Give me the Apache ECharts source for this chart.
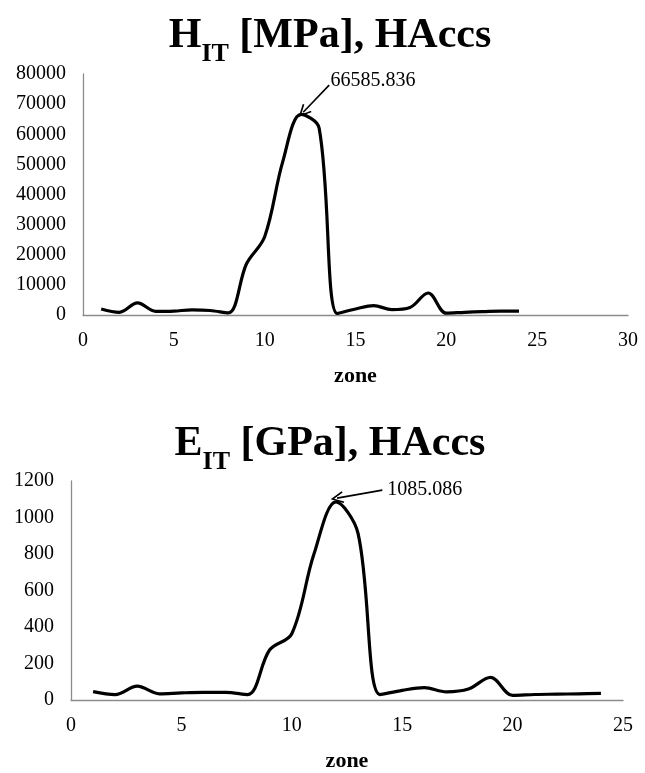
<!DOCTYPE html>
<html>
<head>
<meta charset="utf-8">
<script src="https://cdn.jsdelivr.net/npm/echarts@6/dist/echarts.min.js"></script>
<style>
html,body{margin:0;padding:0;background:#fff;}
#c{width:645px;height:773px;}
</style>
</head>
<body>
<div id="c"></div>
<script>
// ---- data ----
const zones = [1,2,3,4,5,6,7,8,9,10,11,12,13,14,15,16,17,18,19,20,21,22,23,24];
const hitValues = [2000, 900, 4000, 1200, 1300, 1700, 1500, 700, 17000, 26000, 51000, 66585.836, 62000, 500, 2000, 3100, 1800, 2500, 7300, 600, 900, 1100, 1300, 1300];
const eitValues = [46, 30, 76, 34, 39, 42, 42, 30, 275, 363, 798, 1085.086, 913, 30, 53, 68, 45, 60, 124, 25, 30, 32, 34, 36];
const hitTicks = [0, 80000, 10000];   // min, max, interval
const hitXTicks = [0, 30, 5];
const eitTicks = [0, 1200, 200];
const eitXTicks = [0, 25, 5];
const hitPeak = {zone: 12, value: 66585.836, label: '66585.836'};
const eitPeak = {zone: 12, value: 1085.086, label: '1085.086'};
// annotation anchor points (data space)
const hitLabelAt = [13.6, 77800];
const hitArrowFrom = [13.55, 76300];
const hitArrowTo = [12.12, 67300];
const eitLabelAt = [14.3, 1152];
const eitArrowFrom = [14.1, 1150];
const eitArrowTo = [12.05, 1106];

const serif = '"Liberation Serif", "Times New Roman", serif';
const pairs = (xs, ys) => xs.map((x, i) => [x, ys[i]]);
const openArrow = 'path://M0,0 L6,11 L4.6,11.8 L0,3.2 L-4.6,11.8 L-6,11 Z';

function titleOpt(main, sub, rest, top) {
  return {
    text: '{m|' + main + '}{s|' + sub + '}{m|' + rest + '}',
    left: 325, top: top, textAlign: 'center',
    textStyle: {
      rich: {
        m: {fontFamily: serif, fontWeight: 'bold', fontSize: 42, color: '#000', lineHeight: 46, verticalAlign: 'bottom'},
        s: {fontFamily: serif, fontWeight: 'bold', fontSize: 26, color: '#000', lineHeight: 46, verticalAlign: 'bottom', padding: [0, 0, -10, 0]}
      }
    }
  };
}

function xAxisOpt(t, gi) {
  return {
    type: 'value', gridIndex: gi, min: t[0], max: t[1], interval: t[2],
    name: 'zone', nameLocation: 'middle', nameGap: 50,
    nameTextStyle: {fontFamily: serif, fontWeight: 'bold', fontSize: 22, color: '#000'},
    axisLine: {show: true, lineStyle: {color: '#8c8c8c', width: 1.3}},
    axisTick: {show: false}, splitLine: {show: false},
    axisLabel: {fontFamily: serif, fontSize: 20, color: '#000', margin: 16, formatter: v => String(v)}
  };
}
function yAxisOpt(t, gi, margin) {
  return {
    type: 'value', gridIndex: gi, min: t[0], max: t[1], interval: t[2],
    axisLine: {show: true, lineStyle: {color: '#8c8c8c', width: 1.3}},
    axisTick: {show: false}, splitLine: {show: false},
    axisLabel: {fontFamily: serif, fontSize: 20, color: '#000', margin: margin, formatter: v => String(v)}
  };
}
function seriesOpt(vals, gi, labelAt, from, to, peak) {
  return {
    type: 'line', xAxisIndex: gi, yAxisIndex: gi,
    data: pairs(zones, vals), smooth: 0.35, showSymbol: false,
    lineStyle: {color: '#000', width: 3.2},
    silent: true,
    markLine: {
      silent: true, animation: false,
      symbol: ['none', openArrow], symbolSize: [12, 13],
      lineStyle: {color: '#000', width: 1.6, type: 'solid'},
      label: {show: false},
      data: [[{coord: from}, {coord: to}]]
    },
    markPoint: {
      silent: true, animation: false,
      symbol: 'circle', symbolSize: 1, itemStyle: {color: 'rgba(0,0,0,0)'},
      label: {show: true, position: 'right', distance: 0, formatter: peak.label,
        fontFamily: serif, fontSize: 20, color: '#000'},
      data: [{coord: labelAt}]
    }
  };
}

const chart = echarts.init(document.getElementById('c'), null, {renderer: 'canvas'});
chart.setOption({
  animation: false,
  backgroundColor: '#fff',
  title: [
    titleOpt('H', 'IT', ' [MPa], HAccs', 6),
    titleOpt('E', 'IT', ' [GPa], HAccs', 414)
  ],
  grid: [
    {left: 83, right: 17, top: 74, height: 241},
    {left: 71, right: 22, top: 481, height: 225}
  ],
  xAxis: [xAxisOpt(hitXTicks, 0), xAxisOpt(eitXTicks, 1)],
  yAxis: [yAxisOpt(hitTicks, 0, 17), yAxisOpt(eitTicks, 1, 17)],
  series: [
    seriesOpt(hitValues, 0, hitLabelAt, hitArrowFrom, hitArrowTo, hitPeak),
    seriesOpt(eitValues, 1, eitLabelAt, eitArrowFrom, eitArrowTo, eitPeak)
  ]
});
</script>
</body>
</html>
